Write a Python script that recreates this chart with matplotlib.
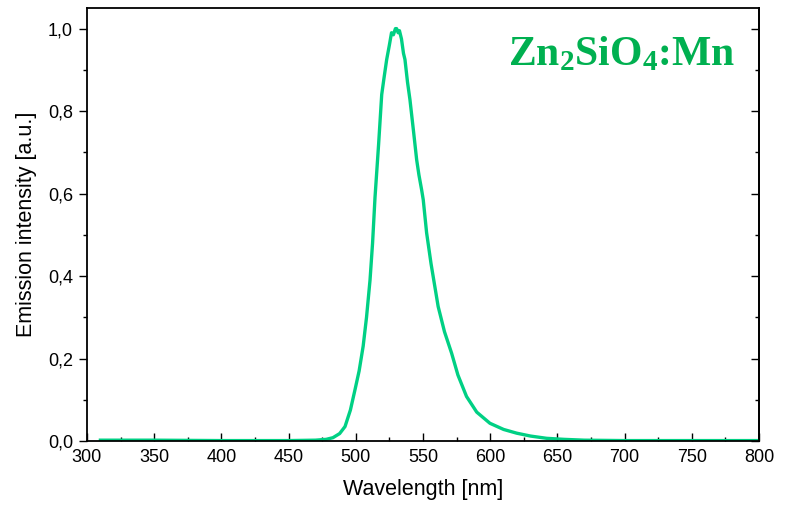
import matplotlib
matplotlib.use("Agg")
import matplotlib.pyplot as plt
from matplotlib.ticker import MultipleLocator, FixedLocator, FixedFormatter

# emission spectrum
wavelength = [310, 350, 400, 450, 470, 478, 483, 488, 492, 496, 499.4, 502.5,
              505.5, 508, 510.6, 512.5, 514.3, 517, 519.3, 521, 523, 525, 526.6,
              528, 529.5, 530.4, 531.5, 532.5, 534, 535.5, 536.6, 538.5, 540.3,
              543, 545.3, 547, 549, 550.2, 552.7, 556, 561.3, 566, 571.3, 576,
              582.4, 590, 599.8, 610, 619.7, 630, 642, 655, 670, 700, 750, 800]
intensity = [0.002, 0.002, 0.001, 0.001, 0.002, 0.004, 0.008, 0.018, 0.035,
             0.075, 0.124, 0.17, 0.23, 0.30, 0.39, 0.48, 0.59, 0.72, 0.84, 0.88,
             0.925, 0.96, 0.99, 0.985, 1.0, 1.0, 0.99, 0.995, 0.975, 0.94, 0.925,
             0.87, 0.828, 0.75, 0.682, 0.645, 0.609, 0.585, 0.505, 0.43, 0.326,
             0.265, 0.213, 0.16, 0.108, 0.07, 0.043, 0.028, 0.019, 0.012, 0.0065,
             0.004, 0.002, 0.001, 0.001, 0.001]

y_ticks = [0.0, 0.2, 0.4, 0.6, 0.8, 1.0]
y_tick_labels = ["0,0", "0,2", "0,4", "0,6", "0,8", "1,0"]
sample_label = "Zn$_2$SiO$_4$:Mn"

plt.rcParams["font.family"] = ["Liberation Sans", "DejaVu Sans"]
plt.rcParams["mathtext.fontset"] = "custom"
plt.rcParams["mathtext.rm"] = "Liberation Serif:bold"
plt.rcParams["mathtext.it"] = "Liberation Serif:bold"
plt.rcParams["mathtext.bf"] = "Liberation Serif:bold"

fig = plt.figure(figsize=(7.87, 5.09), dpi=100)
ax = fig.add_axes([0.1105, 0.1336, 0.8539, 0.8507])

ax.plot(wavelength, intensity, color="#00D084", lw=2.4)

ax.set_xlim(300, 800)
ax.set_ylim(0, 1.05)
ax.xaxis.set_major_locator(MultipleLocator(50))
ax.xaxis.set_minor_locator(MultipleLocator(25))
ax.yaxis.set_major_locator(FixedLocator(y_ticks))
ax.yaxis.set_major_formatter(FixedFormatter(y_tick_labels))
ax.yaxis.set_minor_locator(MultipleLocator(0.1))

for s in ax.spines.values():
    s.set_linewidth(1.3)

ax.tick_params(axis="x", which="both", direction="in", top=False,
               labelsize=13, width=1.0, pad=6)
ax.tick_params(axis="y", which="both", direction="out", right=False,
               labelsize=13, width=1.0, pad=4)
ax.tick_params(which="major", length=6)
ax.tick_params(which="minor", length=3)

# inward ticks on the right spine
rax = ax.secondary_yaxis("right")
rax.yaxis.set_major_locator(FixedLocator(y_ticks))
rax.yaxis.set_minor_locator(MultipleLocator(0.1))
rax.tick_params(which="both", direction="in", labelright=False, width=1.0)
rax.tick_params(which="major", length=6)
rax.tick_params(which="minor", length=3)
rax.spines["right"].set_linewidth(1.3)

ax.set_xlabel("Wavelength [nm]", fontsize=15.5, labelpad=9)
ax.set_ylabel("Emission intensity [a.u.]", fontsize=15.5, labelpad=8)

ax.text(0.796, 0.868, sample_label, transform=ax.transAxes, ha="center",
        va="baseline", color="#00B050", fontsize=30,
        family="Liberation Serif", weight="bold")

fig.savefig("out.png", dpi=100)
